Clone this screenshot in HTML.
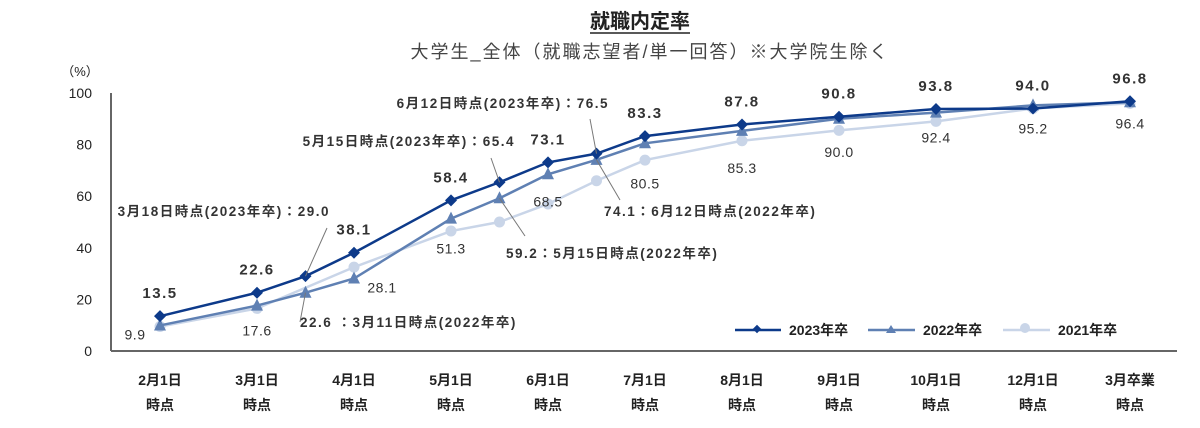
<!DOCTYPE html>
<html><head><meta charset="utf-8"><style>
body{margin:0;background:#fff;}
svg text{font-family:"Liberation Sans","Noto Sans CJK JP",sans-serif;}
</style></head><body>
<svg width="1200" height="423" viewBox="0 0 1200 423" xmlns="http://www.w3.org/2000/svg">
<text x="640" y="28" text-anchor="middle" font-size="20" font-weight="bold" fill="#222">就職内定率</text>
<line x1="590" y1="33" x2="690" y2="33" stroke="#222" stroke-width="1.5"/>
<text x="650" y="58" text-anchor="middle" font-size="18" fill="#444" letter-spacing="2">大学生_全体（就職志望者/単一回答）※大学院生除く</text>
<text x="80" y="76" text-anchor="middle" font-size="13" fill="#222">（%）</text>
<g id="yticks"></g>
<line x1="111" y1="93" x2="111" y2="351" stroke="#666" stroke-width="2"/>
<line x1="111" y1="351" x2="1177" y2="351" stroke="#666" stroke-width="2"/>
<g id="xticks"></g>
<g id="series"></g>
<g id="labels"></g>
<g>
 <g>
  <line x1="735" y1="330" x2="781" y2="330" stroke="#0d3a8a" stroke-width="2.5"/>
  <rect x="754" y="326" width="6" height="6" fill="#0d3a8a" transform="rotate(45 757 329)"/>
  <text x="789" y="335" font-size="14" font-weight="bold" fill="#222">2023年卒</text>
 </g>
 <g>
  <line x1="868" y1="330" x2="915" y2="330" stroke="#5f80b3" stroke-width="2.5"/>
  <polygon points="891,325 896,333 886,333" fill="#5f80b3"/>
  <text x="923" y="335" font-size="14" font-weight="bold" fill="#222">2022年卒</text>
 </g>
 <g>
  <line x1="1003" y1="330" x2="1050" y2="330" stroke="#c9d5e8" stroke-width="2.5"/>
  <circle cx="1025" cy="328" r="5" fill="#c9d5e8"/>
  <text x="1058" y="335" font-size="14" font-weight="bold" fill="#222">2021年卒</text>
 </g>
</g>
</svg>
<script>
const categories=["2月1日","3月1日","4月1日","5月1日","6月1日","7月1日","8月1日","9月1日","10月1日","12月1日","3月卒業"];
const yTicks=[0,20,40,60,80,100];
const x2023=[0,1,1.5,2,3,3.5,4,4.5,5,6,7,8,9,10];
const v2023=[13.5,22.6,29.0,38.1,58.4,65.4,73.1,76.5,83.3,87.8,90.8,93.8,94.0,96.8];
const x2022=[0,1,1.5,2,3,3.5,4,4.5,5,6,7,8,9,10];
const v2022=[9.9,17.6,22.6,28.1,51.3,59.2,68.5,74.1,80.5,85.3,90.0,92.4,95.2,96.4];
const x2021=[0,1,2,3,3.5,4,4.5,5,6,7,8,9,10];
const v2021=[9.5,16.5,32.5,46.5,50.0,57.0,66.0,74.0,81.5,85.5,89.0,94.0,96.0];
const NS="http://www.w3.org/2000/svg";
const X=i=>160+i*97;
const Y=v=>351-v*2.58;
function mk(tag,attrs,parent){const e=document.createElementNS(NS,tag);for(const k in attrs)e.setAttribute(k,attrs[k]);parent.appendChild(e);return e;}
const yt=document.getElementById('yticks');
yTicks.forEach(t=>{const e=mk('text',{x:92,y:Y(t)+5,'text-anchor':'end','font-size':14,fill:'#222'},yt);e.textContent=t;

});
const xt=document.getElementById('xticks');
categories.forEach((c,i)=>{const a=mk('text',{x:X(i),y:385,'text-anchor':'middle','font-size':14,'font-weight':'bold',fill:'#222'},xt);a.textContent=c;


const b=mk('text',{x:X(i),y:410,'text-anchor':'middle','font-size':14,'font-weight':'bold',fill:'#222'},xt);b.textContent='時点';

});
const sg=document.getElementById('series');
function series(xs,vs,color,shape,name){
 const g=mk('g',{},sg);
 
 
 mk('polyline',{points:xs.map((x,i)=>X(x)+','+Y(vs[i])).join(' '),fill:'none',stroke:color,'stroke-width':2.5},g);
 xs.forEach((x,i)=>{const cx=X(x),cy=Y(vs[i]);let m;
  if(shape==='d')m=mk('polygon',{points:`${cx},${cy-6} ${cx+6},${cy} ${cx},${cy+6} ${cx-6},${cy}`,fill:color},g);
  else if(shape==='t')m=mk('polygon',{points:`${cx},${cy-7} ${cx+6},${cy+5} ${cx-6},${cy+5}`,fill:color},g);
  else m=mk('circle',{cx:cx,cy:cy,r:5.5,fill:color},g);
  
  });
}
series(x2021,v2021,'#c9d5e8','c','series-2021');
series(x2022,v2022,'#5f80b3','t','series-2022');
series(x2023,v2023,'#0d3a8a','d','series-2023');
const lg=document.getElementById('labels');
function txt(x,y,s,bold,anchor,size){const e=mk('text',{x:x,y:y,'text-anchor':anchor||'middle','font-size':size||14,'font-weight':bold?'bold':'normal',fill:'#333','letter-spacing':bold?1.5:0.5},lg);e.textContent=s;

return e;}
x2023.forEach((x,i)=>{if(x%1!==0)return;txt(X(x),Y(v2023[i])-18,v2023[i].toFixed(1),true,'middle',15);});
// 2022 label offsets (dx, dy) relative to the point
const lblDx={0:-25,2:28};
const lblDy={0:14,1:30,2:14,3:35,4:32,5:45,6:42,7:38,8:30,9:28,10:26};
x2022.forEach((x,i)=>{if(x%1!==0)return;txt(X(x)+(lblDx[x]||0),Y(v2022[i])+lblDy[x],v2022[i].toFixed(1),false,'middle',14);});
function ann(i,s,tx,ty,lx1,ly1,anchor,vals,xs){const px=X(xs[i]),py=Y(vals[i]);
 const l=mk('line',{x1:lx1,y1:ly1,x2:px,y2:py,stroke:'#777','stroke-width':1},lg);
 
 
 txt(tx,ty,s,true,anchor,13.5);}
ann(2,'3月18日時点(2023年卒)：'+v2023[2].toFixed(1),330,216,327,228,'end',v2023,x2023);
ann(5,'5月15日時点(2023年卒)：'+v2023[5].toFixed(1),515,146,491,158,'end',v2023,x2023);
ann(7,'6月12日時点(2023年卒)：'+v2023[7].toFixed(1),609,108,590,119,'end',v2023,x2023);
ann(2,v2022[2].toFixed(1)+' ：3月11日時点(2022年卒)',300,327,300,322,'start',v2022,x2022);
ann(5,v2022[5].toFixed(1)+'：5月15日時点(2022年卒)',506,258,525,236,'start',v2022,x2022);
ann(7,v2022[7].toFixed(1)+'：6月12日時点(2022年卒)',604,216,620,200,'start',v2022,x2022);
</script>
</body></html>
